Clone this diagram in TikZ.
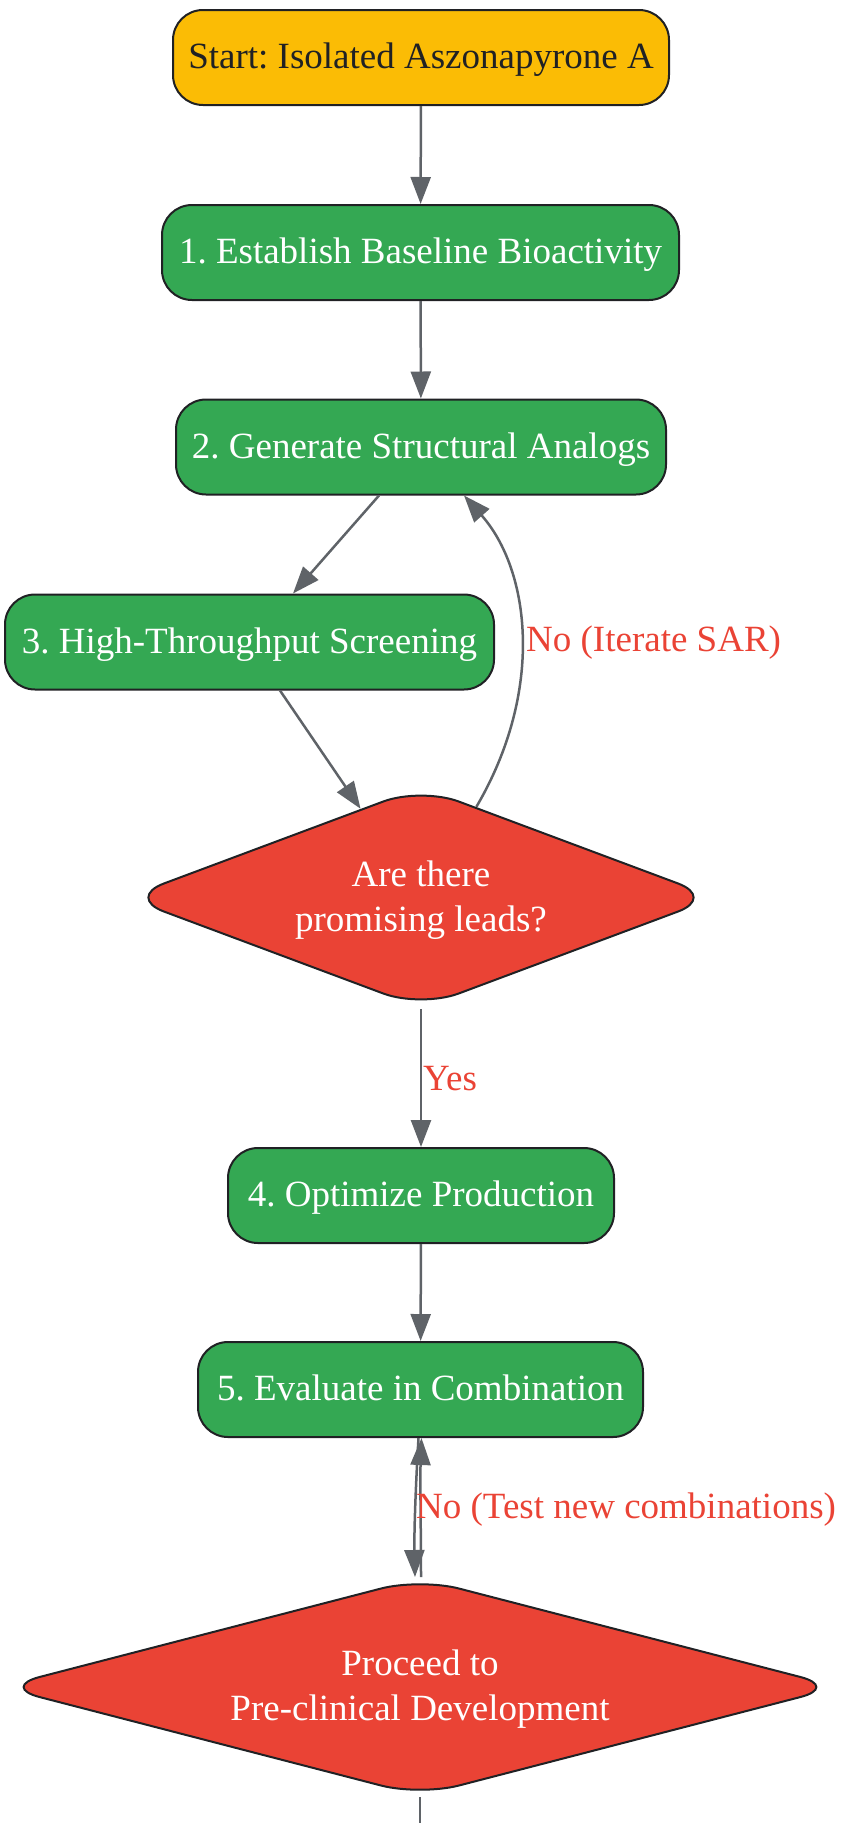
\documentclass[tikz,border=0pt]{standalone}
\usepackage{fontspec}
\setmainfont{Liberation Serif}
\usetikzlibrary{arrows.meta,shapes.geometric,calc}
\definecolor{gyellow}{HTML}{FBBC05}
\definecolor{ggreen}{HTML}{34A853}
\definecolor{gred}{HTML}{EA4335}
\definecolor{ggray}{HTML}{5F6368}
\definecolor{gdark}{HTML}{202124}
\frenchspacing
\begin{document}
\frenchspacing
\begin{tikzpicture}[x=1pt,y=-1pt,
  box/.style={draw=gdark, line width=2pt, rounded corners=30pt, minimum height=95pt,
    inner sep=0pt, font=\fontsize{37}{45}\selectfont, align=center, text=white, fill=ggreen,
    text height=28pt, text depth=6pt},
  dec/.style={shape=diamond, draw=gdark, line width=2pt, rounded corners=40pt, fill=gred,
    text=white, inner sep=0pt, align=center, font=\fontsize{37}{45}\selectfont,
    text height=73pt, text depth=6pt},
  edge/.style={draw=ggray, line width=2.5pt, -{Triangle[length=27pt,width=20pt]}},
  lbl/.style={text=gred, font=\fontsize{37}{45}\selectfont, anchor=west, inner sep=0pt}]
\useasboundingbox (0,0) rectangle (842,1823);
\node[box, fill=gyellow, text=gdark, minimum width=496pt] (s) at (421,57.5) {Start: Isolated Aszonapyrone A};
\node[box, minimum width=517pt] (n1) at (420.5,252.5) {1. Establish Baseline Bioactivity};
\node[box, minimum width=490pt] (n2) at (421,447) {2. Generate Structural Analogs};
\node[box, minimum width=489pt] (n3) at (249.5,642) {3. High-Throughput Screening};
\node[dec, aspect=2.7, minimum width=590pt, minimum height=221pt] (d1) at (421,897.5) {Are there\\promising leads?};
\node[box, minimum width=386pt] (n4) at (421,1195.5) {4. Optimize Production};
\node[box, minimum width=445pt] (n5) at (420.5,1389.5) {5. Evaluate in Combination};
\node[dec, aspect=3.9, minimum width=839pt, minimum height=218pt] (d2) at (420,1687) {Proceed to\\Pre-clinical Development};
\coordinate (end) at (420,1823);
\coordinate (loopstart) at ($(d1.north)!0.187!(d1.east)$);

\draw[edge] (s) -- (n1);
\draw[edge] (n1) -- (n2);
\draw[edge] ([xshift=-42pt]n2.south) -- ([xshift=43.5pt]n3.north);
\draw[edge] ([xshift=30.5pt]n3.south) -- (d1);
\draw[edge] (loopstart) .. controls (545,690) and (530,570) .. ([xshift=43pt]n2.south);
\node[lbl] (l1) at (526,643) {No (Iterate SAR)};
\draw[edge] (d1.south) -- (n4.north);
\node[lbl] (l2) at (423,1079) {Yes};
\draw[edge] (n4) -- (n5);
\draw[edge] ([xshift=-2pt]n5.south) .. controls (416,1480) and (414,1530) .. ([xshift=-5pt]d2.north);
\draw[edge] ([xshift=1pt]d2.north) .. controls (421,1530) and (420,1480) .. ([xshift=1pt]n5.south);
\node[lbl] (l3) at (416,1510) {No (Test new combinations)};
\draw[draw=ggray, line width=2.5pt] (d2.south) -- (end);
\end{tikzpicture}
\end{document}
